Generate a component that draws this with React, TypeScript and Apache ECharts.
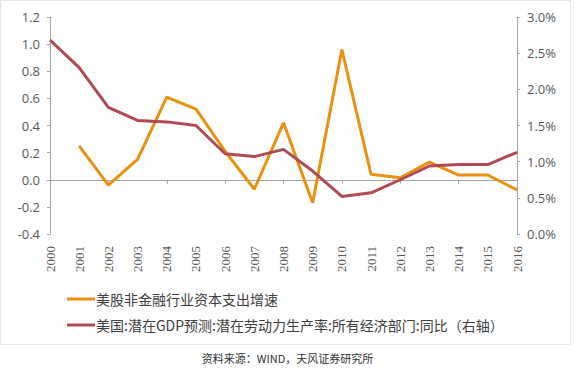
import React, { useEffect, useRef } from "react";
import * as echarts from "echarts";

const years = ["2000","2001","2002","2003","2004","2005","2006","2007","2008","2009","2010","2011","2012","2013","2014","2015","2016"];
const capexGrowth: (number | null)[] = [null, 0.25, -0.04, 0.15, 0.61, 0.52, 0.21, -0.07, 0.42, -0.17, 0.96, 0.04, 0.015, 0.13, 0.035, 0.035, -0.075];
const productivityYoY = [2.68, 2.3, 1.75, 1.57, 1.55, 1.5, 1.11, 1.07, 1.17, 0.87, 0.52, 0.57, 0.75, 0.94, 0.96, 0.96, 1.13];
const leftTicks = { min: -0.4, max: 1.2, interval: 0.2 };
const rightTicks = { min: 0, max: 3, interval: 0.5 };
const seriesNames = ["美股非金融行业资本支出增速", "美国:潜在GDP预测:潜在劳动力生产率:所有经济部门:同比（右轴）"];
const sourceText = "资料来源：WIND，天风证券研究所";

export default function App() {
  const ref = useRef<HTMLDivElement>(null);
  useEffect(() => {
    document.body.style.margin = "0";
    const chart = echarts.init(ref.current!, null, { renderer: "svg" });
    const axisGray = "#a6a6a6";
    const labelGray = "#595959";
    chart.setOption({
      animation: false,
      backgroundColor: "#ffffff",
      textStyle: { fontFamily: "'Open Sans', 'Noto Sans CJK SC', sans-serif" },
      grid: { left: 50, right: 58, top: 17, bottom: 138, containLabel: false },
      legend: {
        orient: "vertical",
        left: 62,
        top: 287,
        itemWidth: 28,
        itemHeight: 3,
        itemGap: 12,
        icon: "rect",
        textStyle: { fontSize: 14, color: "#404040", fontFamily: "'Noto Sans CJK SC', sans-serif", padding: [0, 0, 0, -4] },
        data: seriesNames,
      },
      graphic: [
        {
          type: "rect",
          shape: { x: 0.5, y: 0.5, width: 570, height: 344 },
          style: { fill: "none", stroke: "#e6e6e6", lineWidth: 1 },
          silent: true,
        },
        {
          type: "text",
          left: "center",
          top: 352,
          style: { text: sourceText, fontSize: 11, fill: "#333333", fontFamily: "'Noto Sans CJK SC', sans-serif" },
        },
      ],
      xAxis: [
        {
          type: "category",
          data: years,
          boundaryGap: false,
          position: "bottom",
          axisLine: { show: false, onZero: false },
          axisTick: { show: false },
          axisLabel: {
            rotate: 90,
            margin: 12,
            fontSize: 13,
            color: labelGray,
            fontFamily: "'Liberation Serif', 'DejaVu Serif', serif",
          },
          splitLine: { show: false },
        },
        {
          type: "category",
          data: years,
          boundaryGap: false,
          position: "bottom",
          axisLine: { show: true, onZero: true, onZeroAxisIndex: 0, lineStyle: { color: axisGray, width: 1 } },
          axisTick: { show: true, inside: false, length: 4, alignWithLabel: true, lineStyle: { color: axisGray } },
          axisLabel: { show: false },
          splitLine: { show: false },
        },
      ],
      yAxis: [
        {
          type: "value",
          min: leftTicks.min,
          max: leftTicks.max,
          interval: leftTicks.interval,
          axisLine: { show: true, lineStyle: { color: axisGray } },
          axisTick: { show: true, length: 3, lineStyle: { color: axisGray } },
          axisLabel: { fontSize: 13, color: labelGray, margin: 10, formatter: (v: number) => v.toFixed(1) },
          splitLine: { show: false },
        },
        {
          type: "value",
          position: "right",
          min: rightTicks.min,
          max: rightTicks.max,
          interval: rightTicks.interval,
          axisLine: { show: true, lineStyle: { color: axisGray } },
          axisTick: { show: true, length: 3, lineStyle: { color: axisGray } },
          axisLabel: { fontSize: 13, color: labelGray, margin: 10, formatter: (v: number) => v.toFixed(1) + "%" },
          splitLine: { show: false },
        },
      ],
      series: [
        {
          name: seriesNames[0],
          type: "line",
          xAxisIndex: 0,
          yAxisIndex: 0,
          data: capexGrowth,
          symbol: "none",
          connectNulls: false,
          lineStyle: { color: "#E8920F", width: 3 },
          itemStyle: { color: "#E8920F" },
        },
        {
          name: seriesNames[1],
          type: "line",
          xAxisIndex: 0,
          yAxisIndex: 1,
          data: productivityYoY,
          symbol: "none",
          lineStyle: { color: "#B04A55", width: 3 },
          itemStyle: { color: "#B04A55" },
        },
      ],
    });
    return () => chart.dispose();
  }, []);
  return <div ref={ref} style={{ width: 575, height: 372 }} />;
}
